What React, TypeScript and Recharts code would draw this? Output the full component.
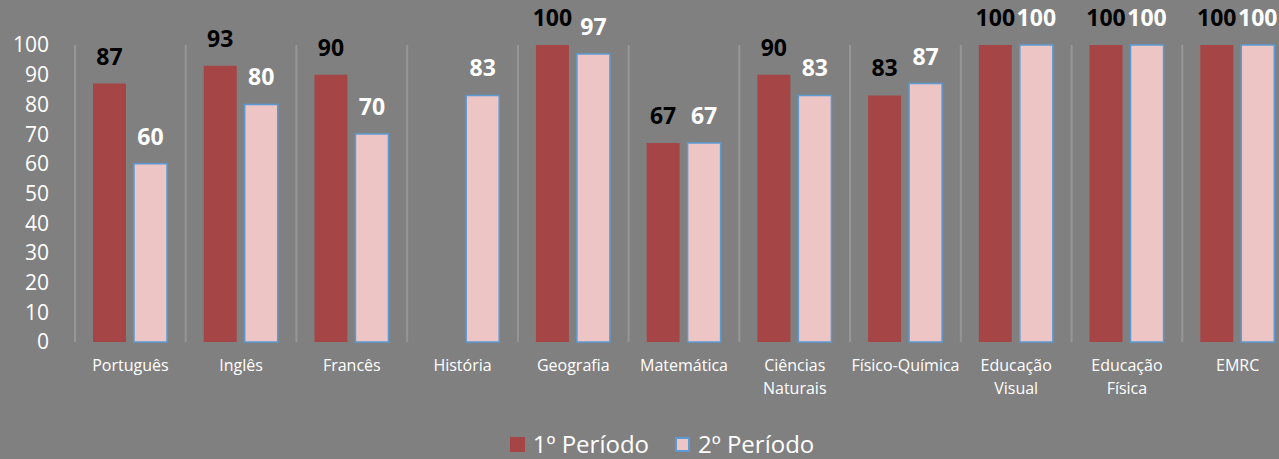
import { BarChart, Bar, XAxis, YAxis, CartesianGrid, Legend, LabelList } from "recharts";

const categories = [
  "Português",
  "Inglês",
  "Francês",
  "História",
  "Geografia",
  "Matemática",
  "Ciências Naturais",
  "Físico-Química",
  "Educação Visual",
  "Educação Física",
  "EMRC",
];
const periodo1 = [87, 93, 90, null, 100, 67, 90, 83, 100, 100, 100];
const periodo2 = [60, 80, 70, 83, 97, 67, 83, 87, 100, 100, 100];
const yTicks = [0, 10, 20, 30, 40, 50, 60, 70, 80, 90, 100];

const data = categories.map((name, i) => ({ name, pos: i + 0.5, p1: periodo1[i], p2: periodo2[i] }));
const gridTicks = [...categories.map((_, i) => i), categories.length];

const FONT = "'Open Sans', sans-serif";
const RED = "#A64545";
const PINK = "#EDC5C5";
const BLUE = "#5B9BD5";

const CatTick = (props: any) => {
  const { x, y, payload } = props;
  const lines = String(payload.value).split(" ");
  return (
    <text x={x} y={y} textAnchor="middle" fill="#fff" fontSize={16} fontFamily={FONT}>
      {lines.map((l, i) => (
        <tspan key={i} x={x} dy={i === 0 ? 21 : 23}>
          {l}
        </tspan>
      ))}
    </text>
  );
};

const renderLegend = (props: any) => {
  const { payload } = props;
  return (
    <div style={{ display: "flex", justifyContent: "center", paddingLeft: 31, fontFamily: FONT }}>
      {payload.map((entry: any, i: number) => (
        <div key={i} style={{ display: "flex", alignItems: "center", marginRight: i === 0 ? 26 : 0 }}>
          <span
            style={{
              width: 15,
              height: 15,
              boxSizing: "border-box",
              background: entry.dataKey === "p1" ? RED : PINK,
              border: entry.dataKey === "p1" ? "none" : `2px solid ${BLUE}`,
              marginRight: 8,
            }}
          />
          <span style={{ color: "#fff", fontSize: 24, lineHeight: "30px" }}>{entry.value}</span>
        </div>
      ))}
    </div>
  );
};

export default function App() {
  return (
    <div
      style={{
        position: "fixed",
        left: 0,
        top: 0,
        width: 1279,
        height: 459,
        overflow: "hidden",
        background: "#808080",
      }}
    >
      <BarChart
        width={1293}
        height={459}
        data={data}
        margin={{ top: 45, right: 0, left: 0, bottom: 0 }}
        barCategoryGap={18}
        barGap={8}
      >
        <CartesianGrid xAxisId="grid" horizontal={false} stroke="#969696" strokeWidth={2} />
        <XAxis
          xAxisId="grid"
          dataKey="pos"
          type="number"
          scale="linear"
          domain={[0, categories.length]}
          ticks={gridTicks}
          interval={0}
          hide
          allowDataOverflow
        />
        <XAxis
          xAxisId="cat"
          dataKey="name"
          interval={0}
          height={87}
          axisLine={false}
          tickLine={false}
          tickSize={6}
          tickMargin={2}
          tick={<CatTick />}
        />
        <YAxis
          domain={[0, 100]}
          ticks={yTicks}
          interval={0}
          width={75}
          axisLine={false}
          tickLine={false}
          tickSize={6}
          tickMargin={20}
          tick={{ fill: "#fff", fontSize: 21, fontFamily: FONT }}
        />
        <Legend verticalAlign="bottom" wrapperStyle={{ height: 30 }} content={renderLegend} />
        <Bar xAxisId="cat" dataKey="p1" name="1º Período" fill={RED} isAnimationActive={false}>
          <LabelList
            dataKey="p1"
            position="top"
            offset={19}
            fill="#000"
            fontSize={23}
            fontWeight="bold"
            fontFamily={FONT}
            formatter={(v: any) => (v == null ? "" : v)}
          />
        </Bar>
        <Bar xAxisId="cat" dataKey="p2" name="2º Período" fill={PINK} stroke={BLUE} strokeWidth={1.5} isAnimationActive={false}>
          <LabelList
            dataKey="p2"
            position="top"
            offset={19}
            fill="#fff"
            fontSize={23}
            fontWeight="bold"
            fontFamily={FONT}
          />
        </Bar>
      </BarChart>
    </div>
  );
}
